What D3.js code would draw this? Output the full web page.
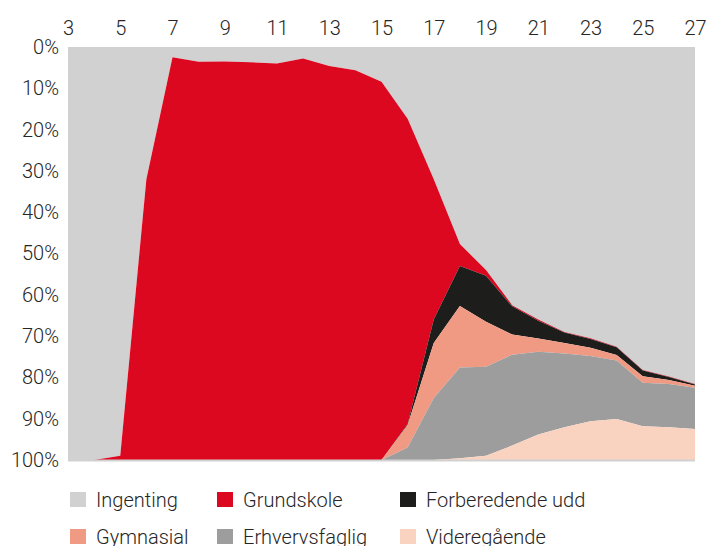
<!DOCTYPE html>
<html>
<head>
<meta charset="utf-8">
<script src="https://cdn.jsdelivr.net/npm/d3@7"></script>
<style>
  body { margin: 0; background: #fff; }
  text { font-family: Roboto, "Noto Sans", sans-serif; font-weight: 300; fill: #262626; }
</style>
</head>
<body>
<div id="chart"></div>
<script>
// Share of each age group by education status (%)
const ages = [3, 4, 5, 6, 7, 8, 9, 10, 11, 12, 13, 14, 15, 16, 17, 18, 19, 20, 21, 22, 23, 24, 25, 26, 27];
const ingenting      = [100, 100, 99, 32, 2.5, 3.6, 3.5, 3.7, 4.0, 2.8, 4.6, 5.6, 8.4, 17.4, 32, 47.7, 54, 62.5, 66, 69, 70.5, 72.6, 78.2, 79.8, 81.6];
const grundskole     = [0, 0, 1, 68, 97.5, 96.4, 96.5, 96.3, 96.0, 97.2, 95.4, 94.4, 91.6, 73.9, 34, 5.3, 1.4, 0.3, 0.3, 0.1, 0.2, 0.1, 0.1, 0.1, 0.1];
const forberedende   = [0, 0, 0, 0, 0, 0, 0, 0, 0, 0, 0, 0, 0, 0.2, 5.7, 9.7, 11.1, 6.8, 4.3, 2.6, 2.1, 1.9, 1.4, 0.7, 0.3];
const gymnasial      = [0, 0, 0, 0, 0, 0, 0, 0, 0, 0, 0, 0, 0, 5.5, 13.3, 14.9, 10.9, 4.9, 3.2, 2.5, 2.0, 1.3, 1.6, 1.0, 0.5];
const erhvervsfaglig = [0, 0, 0, 0, 0, 0, 0, 0, 0, 0, 0, 0, 0, 3, 15, 22, 21.6, 22, 20, 17.9, 15.8, 14.2, 10.5, 10.5, 10];
const videregaende   = [0, 0, 0, 0, 0, 0, 0, 0, 0, 0, 0, 0, 0, 0, 0, 0.4, 1, 3.6, 6.2, 7.9, 9.4, 9.9, 8.2, 7.9, 7.5];

const keys = ["Ingenting", "Grundskole", "Forberedende udd", "Gymnasial", "Erhvervsfaglig", "Videregående"];
const colors = ["#d1d1d1", "#dc0820", "#1d1d1b", "#f09a83", "#9d9d9d", "#f9d2c0"];
const xTicks = [3, 5, 7, 9, 11, 13, 15, 17, 19, 21, 23, 25, 27];
const yTicks = [0, 10, 20, 30, 40, 50, 60, 70, 80, 90, 100];

const series = [ingenting, grundskole, forberedende, gymnasial, erhvervsfaglig, videregaende];
const rows = ages.map((a, i) => {
    const r = { age: a };
    keys.forEach((k, j) => r[k] = series[j][i]);
    return r;
});

const width = 708, height = 546;
const margin = { top: 47, right: 13, bottom: 86, left: 68 };

const svg = d3.select("#chart").append("svg")
    .attr("width", width)
    .attr("height", height);

const x = d3.scaleLinear().domain([3, 27]).range([margin.left, width - margin.right]);
const y = d3.scaleLinear().domain([0, 100]).range([margin.top, height - margin.bottom]);

const stacked = d3.stack().keys(keys)(rows);

const area = d3.area()
    .x(d => x(d.data.age))
    .y0(d => y(d[0]))
    .y1(d => y(d[1]));

svg.selectAll(".layer")
    .data(stacked)
    .enter().append("path")
    .attr("class", "layer")
    .attr("d", area)
    .attr("fill", (d, i) => colors[i]);

// bottom line
svg.append("line")
    .attr("x1", x(3)).attr("x2", x(27))
    .attr("y1", y(100) + 0.5).attr("y2", y(100) + 0.5)
    .attr("stroke", "#d1d1d1").attr("stroke-width", 2);

// axes
const xAxis = svg.append("g")
    .attr("transform", `translate(0,${margin.top - 11})`)
    .call(d3.axisTop(x).tickValues(xTicks).tickSize(0).tickFormat(d3.format("d")));
xAxis.select(".domain").remove();
xAxis.selectAll("text").style("font-size", "20px").attr("dy", "0.1em");

const yAxis = svg.append("g")
    .attr("transform", `translate(${margin.left - 9},0)`)
    .call(d3.axisLeft(y).tickValues(yTicks).tickSize(0).tickFormat(d => d + "%"));
yAxis.select(".domain").remove();
yAxis.selectAll("text").style("font-size", "20px").attr("x", 0);

// legend
const legendPos = [[70, 492], [217, 492], [400, 492], [70, 529], [217, 529], [400, 529]];
const legend = svg.selectAll(".legend")
    .data(keys)
    .enter().append("g")
    .attr("class", "legend")
    .attr("transform", (d, i) => `translate(${legendPos[i][0]},${legendPos[i][1]})`);

legend.append("rect")
    .attr("width", 16).attr("height", 15)
    .attr("fill", (d, i) => colors[i]);

legend.append("text")
    .attr("x", 26).attr("y", 15)
    .style("font-size", "20px")
    .text(d => d);
</script>
</body>
</html>
